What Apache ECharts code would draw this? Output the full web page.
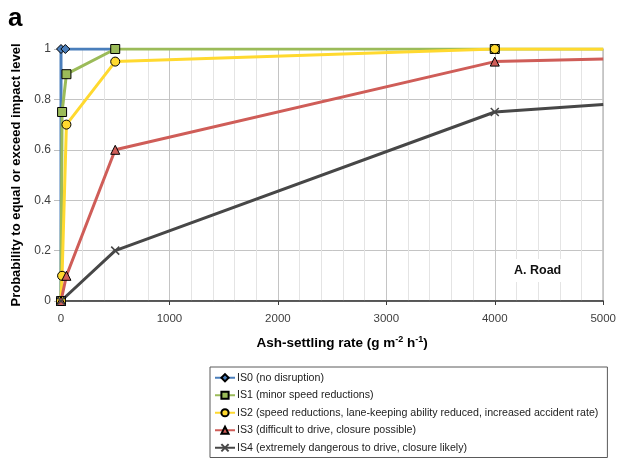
<!DOCTYPE html>
<html>
<head>
<meta charset="utf-8">
<script src="https://cdn.jsdelivr.net/npm/echarts@6/dist/echarts.min.js"></script>
<style>
  html, body { margin: 0; padding: 0; background: #fff; }
  #chart { width: 619px; height: 458px; }
</style>
</head>
<body>
<div id="chart"></div>
<script>
// ash-settling rate (g m-2 h-1) vs probability, one array per impact state
var seriesNames = [
  'IS0 (no disruption)',
  'IS1 (minor speed reductions)',
  'IS2 (speed reductions, lane-keeping ability reduced, increased accident rate)',
  'IS3 (difficult to drive, closure possible)',
  'IS4 (extremely dangerous to drive, closure likely)'
]
var is0 = [[0, 0], [0, 1], [40, 1], [500, 1]]
var is1 = [[0, 0], [10, 0.75], [50, 0.9], [500, 1], [4000, 1], [5000, 1]]
var is2 = [[0, 0], [10, 0.1], [50, 0.7], [500, 0.95], [4000, 1], [5000, 1]]
var is3 = [[0, 0], [50, 0.1], [500, 0.6], [4000, 0.95], [5000, 0.96]]
var is4 = [[0, 0], [500, 0.2], [4000, 0.75], [5000, 0.78]]
var xTicks = [0, 1000, 2000, 3000, 4000, 5000]
var yTicks = [0, 0.2, 0.4, 0.6, 0.8, 1]

var colors = ['#4a7ebb', '#9bbb59', '#ffd92f', '#cf5d58', '#474747']
var symbols = ['diamond', 'rect', 'circle', 'triangle', 'path://M0,0L10,10M10,0L0,10']
var font = 'Liberation Sans, Arial, sans-serif'

// the last point (5000) has no marker in the original
function pts(arr) {
  return arr.map(function (p) {
    if (p[0] === 5000) return { value: p, symbol: 'none' }
    return p
  })
}

var allData = [is0, is1, is2, is3, is4]
var series = allData.map(function (d, i) {
  return {
    name: seriesNames[i],
    type: 'line',
    data: pts(d),
    symbol: symbols[i],
    symbolSize: i === 4 ? 8 : 9,
    showAllSymbol: true,
    lineStyle: { color: colors[i], width: 3 },
    itemStyle: {
      color: i === 4 ? 'transparent' : colors[i],
      borderColor: i === 4 ? colors[i] : '#000',
      borderWidth: i === 4 ? 1.5 : 1
    },
    emphasis: { disabled: true },
    animation: false
  }
})

var myChart = echarts.init(document.getElementById('chart'))
var option = {
  backgroundColor: '#fff',
  animation: false,
  textStyle: { fontFamily: font },
  grid: {
    left: 61,
    right: 12,
    top: 49,
    bottom: 157,
    show: true,
    borderColor: '#5a5a5a',
    borderWidth: 1
  },
  xAxis: {
    type: 'value',
    min: 0,
    max: 5000,
    interval: 1000,
    name: '{b|Ash-settling rate (g m}{s|-2}{b| h}{s|-1}{b|)}',
    nameLocation: 'middle',
    nameGap: 34,
    nameTextStyle: {
      padding: [0, 0, 0, 20],
      rich: {
        b: { fontSize: 13.5, fontWeight: 'bold', color: '#000', fontFamily: font },
        s: { fontSize: 9, fontWeight: 'bold', color: '#000', fontFamily: font, padding: [0, 0, 7, 0] }
      }
    },
    axisLine: { lineStyle: { color: '#3a3a3a', width: 1.5 } },
    axisTick: { show: true, length: 4, lineStyle: { color: '#3a3a3a' } },
    axisLabel: {
      fontSize: 11.5, color: '#404040', margin: 12,
      formatter: function (v) { return xTicks.indexOf(v) >= 0 ? String(v) : '' }
    },
    splitLine: { show: true, lineStyle: { color: '#c4c4c4', width: 1 } },
    minorTick: { show: false, splitNumber: 5 },
    minorSplitLine: { show: true, lineStyle: { color: '#e4e4e4', width: 1 } }
  },
  yAxis: {
    type: 'value',
    min: 0,
    max: 1,
    interval: 0.2,
    name: 'Probability to equal or exceed impact level',
    nameLocation: 'middle',
    nameGap: 34,
    nameTextStyle: { fontSize: 13, fontWeight: 'bold', color: '#000' },
    axisLine: { show: false },
    axisTick: { show: true, length: 7, lineStyle: { color: '#bfbfbf' } },
    axisLabel: {
      fontSize: 12, color: '#404040', margin: 10,
      formatter: function (v) {
        var t = yTicks.find(function (y) { return Math.abs(y - v) < 1e-9 })
        return t === undefined ? '' : String(t)
      }
    },
    splitLine: { show: true, lineStyle: { color: '#c4c4c4', width: 1 } }
  },
  legend: {
    orient: 'vertical',
    left: 210,
    top: 367,
    data: seriesNames,
    itemWidth: 20,
    itemHeight: 9,
    itemGap: 4,
    padding: [4, 9, 3, 4],
    borderColor: '#5a5a5a',
    borderWidth: 1,
    borderRadius: 0,
    textStyle: { fontSize: 10.65, color: '#222', lineHeight: 13.5, padding: [0, 0, 0, -3] }
  },
  graphic: [
    {
      type: 'text', left: 8, top: 6,
      style: { text: 'a', font: 'bold 26px ' + font, fill: '#000' }
    },
    {
      // label box masks the gridlines behind it, as in the original
      type: 'text', left: 509, top: 259, z: 10,
      style: {
        text: 'A. Road', font: 'bold 12.5px ' + font, fill: '#111',
        backgroundColor: '#fff', padding: [5, 5, 5, 5]
      }
    }
  ],
  series: series
}
myChart.setOption(option)
</script>
</body>
</html>
